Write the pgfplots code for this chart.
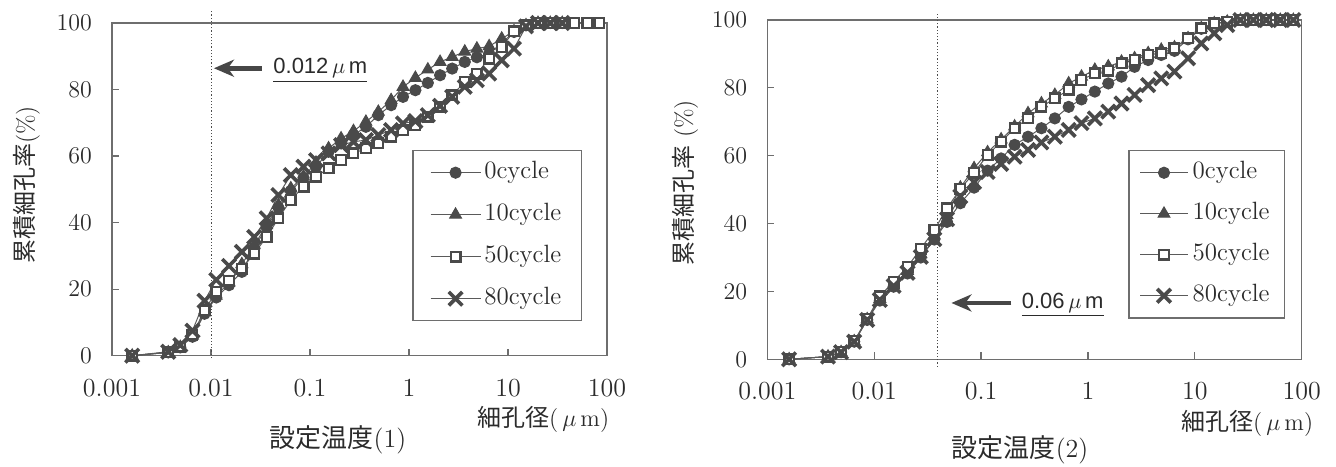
\documentclass[border=0pt]{standalone}
\usepackage{fontspec}
\usepackage{pgfplots}
\usepackage{pgfplotstable}
\pgfplotsset{compat=1.18}
\usetikzlibrary{arrows.meta}
\newfontfamily\cjk{Noto Sans CJK JP}
\newfontfamily\gothic{Liberation Sans}

\definecolor{markgray}{HTML}{4A4A4A}
\definecolor{linegray}{HTML}{5A5A5A}
\definecolor{framegray}{HTML}{6E6E6E}
\definecolor{txt}{HTML}{2B2B2B}

% cumulative pore volume ratio (%) against pore diameter (um)
\pgfplotstableread{
d c0 c10 c50 c80
0.0016 0 0 0 0
0.0037 1.0 1.0 1.0 1.2
0.0049 2.5 2.6 2.7 3.2
0.0065 5.7 6.0 6.3 7.5
0.0086 12.6 13.0 13.7 16.5
0.0113 17.5 18.0 19.2 22.8
0.0152 21.2 22.0 22.5 27.0
0.0205 25.2 27.5 26.2 31.2
0.0273 32.5 33.2 30.7 35.7
0.0365 38.5 39.2 35.7 41.3
0.048 44.5 45.3 41.3 48.3
0.064 49.5 50.3 46.8 54.3
0.086 53.5 53.8 50.8 56.8
0.115 56.8 58.0 53.8 58.8
0.154 61.3 62.3 56.3 60.8
0.206 63.8 65.3 58.8 63.3
0.275 66.3 67.5 60.8 64.3
0.367 68.8 70.3 62.3 64.8
0.49 72.3 73.3 63.8 66.3
0.66 75.3 76.8 65.8 67.8
0.87 77.8 80.8 67.8 69.8
1.16 79.8 83.5 69.3 70.5
1.55 82.0 86.0 71.8 72.3
2.06 84.3 88.3 74.8 75.1
2.73 86.3 89.8 78.3 77.8
3.66 88.3 91.4 82.3 80.8
4.85 89.7 92.3 84.8 82.8
6.45 90.8 93.0 89.3 84.8
8.64 94.0 95.3 92.8 88.8
11.5 97.3 97.5 97.5 92.3
15.2 99.3 99.3 99.3 99.0
20.1 100 100 100 100
26.7 100 100 100 100
35.3 100 100 100 100
46.6 nan nan 100 nan
63 nan nan 100 nan
83.5 nan nan 100 nan
}\tempone

\pgfplotstableread{
d c0 c10 c50 c80
0.0016 0 0 0 0
0.0037 0.8 0.8 0.8 0.8
0.0049 2.1 2.1 2.2 2.1
0.0065 5.2 5.3 5.4 5.2
0.0086 11.6 11.8 11.9 11.6
0.0113 17.3 17.8 18.6 17.5
0.0152 21.4 21.8 22.9 21.6
0.0205 25.3 26.0 27.3 25.5
0.0273 30.0 31.0 32.6 30.2
0.0365 35.3 36.5 38.1 35.4
0.048 40.5 42.5 44.5 41.3
0.064 46.0 50.6 50.2 48.0
0.086 50.6 56.3 55.0 52.2
0.115 55.6 61.0 60.2 55.2
0.154 59.2 64.8 64.1 57.6
0.206 63.2 68.6 68.1 59.7
0.275 65.6 72.5 71.0 61.7
0.367 68.1 75.4 74.4 63.9
0.49 71.0 77.9 76.9 65.6
0.66 74.4 81.3 79.4 67.6
0.87 76.6 83.3 82.3 69.6
1.16 78.9 85.3 84.3 71.0
1.55 81.3 86.3 85.0 73.0
2.06 83.3 87.7 87.2 75.4
2.73 86.2 88.7 88.2 77.9
3.66 88.2 90.2 89.7 80.8
4.85 89.7 91.2 90.2 82.8
6.45 90.9 91.9 91.7 84.8
8.64 94.3 94.6 94.6 88.7
11.5 97.4 97.6 97.6 93.1
15.2 99.0 99.0 99.0 96.1
20.1 99.5 99.5 99.5 98.5
26.7 100 100 100 100
35.3 100 100 100 100
46.6 100 100 100 100
63 100 100 100 100
83.5 100 100 100 100
}\temptwo

% series styles (plain TikZ keys, so the legend can use them too)
\tikzset{
  s0/.style={linegray, line width=0.5pt, mark=*, mark size=2.8pt,
    mark options={fill=markgray, draw=markgray, solid, line width=0.5pt}},
  s10/.style={linegray, line width=0.5pt, mark=triangle*, mark size=3.4pt,
    mark options={fill=markgray, draw=markgray, solid, line width=0.5pt}},
  s50/.style={linegray, line width=0.5pt, mark=square*, mark size=2.4pt,
    mark options={fill=white, draw=markgray, solid, line width=1.2pt}},
  s80/.style={linegray, line width=0.5pt, mark=x, mark size=4.8pt,
    mark options={draw=markgray, solid, line width=1.8pt}},
}

% longer legend samples: line, mark in the middle, line
\pgfplotsset{
  legL/.style={legend image code/.code={%
    \draw[mark repeat=2,mark phase=2,##1] plot coordinates {(0pt,0pt) (12.5pt,0pt) (25pt,0pt)};}},
  legR/.style={legend image code/.code={%
    \draw[mark repeat=2,mark phase=2,##1] plot coordinates {(0pt,0pt) (12pt,0pt) (24pt,0pt)};}},
}

\begin{document}
\begin{tikzpicture}
\useasboundingbox (0,0) rectangle (668pt,233pt);

% ---- left: setting temperature (1)
\begin{semilogxaxis}[
  scale only axis,
  at={(56pt,55.15pt)}, anchor=south west,
  width=247.5pt, height=166.35pt,
  xmin=0.001, xmax=100, ymin=0, ymax=100,
  xtick={0.001,0.01,0.1,1,10,100},
  xticklabels={0.001,0.01,0.1,1,10,100},
  ytick={0,20,40,60,80,100},
  xminorticks=false,
  tick align=inside, xtick pos=left, ytick pos=left,
  major tick length=3.5pt,
  axis line style={framegray, line width=0.6pt},
  tick style={framegray, line width=0.6pt},
  tick label style={font=\fontsize{13}{15}\selectfont, text=txt},
  xticklabel style={yshift=-8pt},
  yticklabel style={xshift=-6.5pt},
  clip=false,
  unbounded coords=discard,
  ylabel={\cjk\fontsize{12}{14}\selectfont 累積細孔率\rmfamily(\%)},
  ylabel style={at={(axis description cs:-0.172,0.513)}, anchor=center, text=txt},
  legend cell align=left,
  legend style={at={(0.607,0.618)}, anchor=north west, draw=framegray, line width=0.6pt,
    font=\fontsize{12.5}{14}\selectfont, text=txt,
    inner xsep=8.5pt, inner ysep=5pt, row sep=9pt,
    nodes={inner xsep=1.65pt, inner ysep=0pt, text height=9pt, text depth=3pt}},
]
\addplot[s0,  legL] table[x=d, y=c0]  {\tempone};
\addplot[s10, legL] table[x=d, y=c10] {\tempone};
\addplot[s50, legL] table[x=d, y=c50] {\tempone};
\addplot[s80, legL] table[x=d, y=c80] {\tempone};
\legend{0cycle,10cycle,50cycle,80cycle}

\draw[densely dotted, black!70, line width=0.6pt] (axis cs:0.0102,-0.7) -- (axis cs:0.0102,103.8);
\draw[-{Stealth[length=10pt,width=8.5pt,inset=3pt]}, line width=2.4pt, black!72]
  (axis cs:0.0327,86.4) -- (axis cs:0.0107,86.4);
\node[anchor=base west, inner sep=0pt, font=\gothic\fontsize{11}{13}\selectfont, text=txt]
  at (axis cs:0.0423,84.7) {\underline{0.012\,$\mu$\,m}};

\node[font=\cjk\fontsize{12}{14}\selectfont, text=txt] at (axis description cs:0.871,-0.193)
  {細孔径\rmfamily(\,$\mu$\,m)};
\node[font=\cjk\fontsize{13}{15}\selectfont, text=txt] at (axis description cs:0.4566,-0.253)
  {設定温度\rmfamily(1)};
\end{semilogxaxis}

% ---- right: setting temperature (2)
\begin{semilogxaxis}[
  scale only axis,
  at={(383.65pt,53.35pt)}, anchor=south west,
  width=267.2pt, height=169.65pt,
  xmin=0.001, xmax=100, ymin=0, ymax=100,
  xtick={0.001,0.01,0.1,1,10,100},
  xticklabels={0.001,0.01,0.1,1,10,100},
  ytick={0,20,40,60,80,100},
  xminorticks=false,
  tick align=inside, xtick pos=left, ytick pos=left,
  major tick length=3.5pt,
  axis line style={framegray, line width=0.6pt},
  tick style={framegray, line width=0.6pt},
  tick label style={font=\fontsize{13}{15}\selectfont, text=txt},
  xticklabel style={yshift=-8pt},
  yticklabel style={xshift=-6.5pt},
  clip=false,
  ylabel={\cjk\fontsize{12}{14}\selectfont 累積細孔率\rmfamily\ (\%)},
  ylabel style={at={(axis description cs:-0.154,0.52)}, anchor=center, text=txt},
  legend cell align=left,
  legend style={at={(0.6755,0.617)}, anchor=north west, draw=framegray, line width=0.6pt,
    font=\fontsize{12.5}{14}\selectfont, text=txt,
    inner xsep=5.3pt, inner ysep=5.1pt, row sep=8.5pt,
    nodes={inner xsep=2.1pt, inner ysep=0pt, text height=9pt, text depth=3pt}},
]
\addplot[s0,  legR] table[x=d, y=c0]  {\temptwo};
\addplot[s10, legR] table[x=d, y=c10] {\temptwo};
\addplot[s50, legR] table[x=d, y=c50] {\temptwo};
\addplot[s80, legR] table[x=d, y=c80] {\temptwo};
\legend{0cycle,10cycle,50cycle,80cycle}

\draw[densely dotted, black!70, line width=0.6pt] (axis cs:0.0388,-2.2) -- (axis cs:0.0388,102.4);
\draw[-{Stealth[length=10pt,width=8.5pt,inset=3pt]}, line width=2.4pt, black!72]
  (axis cs:0.192,16.6) -- (axis cs:0.0528,16.6);
\node[anchor=base west, inner sep=0pt, font=\gothic\fontsize{11}{13}\selectfont, text=txt]
  at (axis cs:0.2387,15.1) {\underline{0.06\,$\mu$\,m}};

\node[font=\cjk\fontsize{12}{14}\selectfont, text=txt] at (axis description cs:0.898,-0.188)
  {細孔径\rmfamily(\,$\mu$\,m)};
\node[font=\cjk\fontsize{13}{15}\selectfont, text=txt] at (axis description cs:0.473,-0.267)
  {設定温度\rmfamily(2)};
\end{semilogxaxis}
\end{tikzpicture}
\end{document}
